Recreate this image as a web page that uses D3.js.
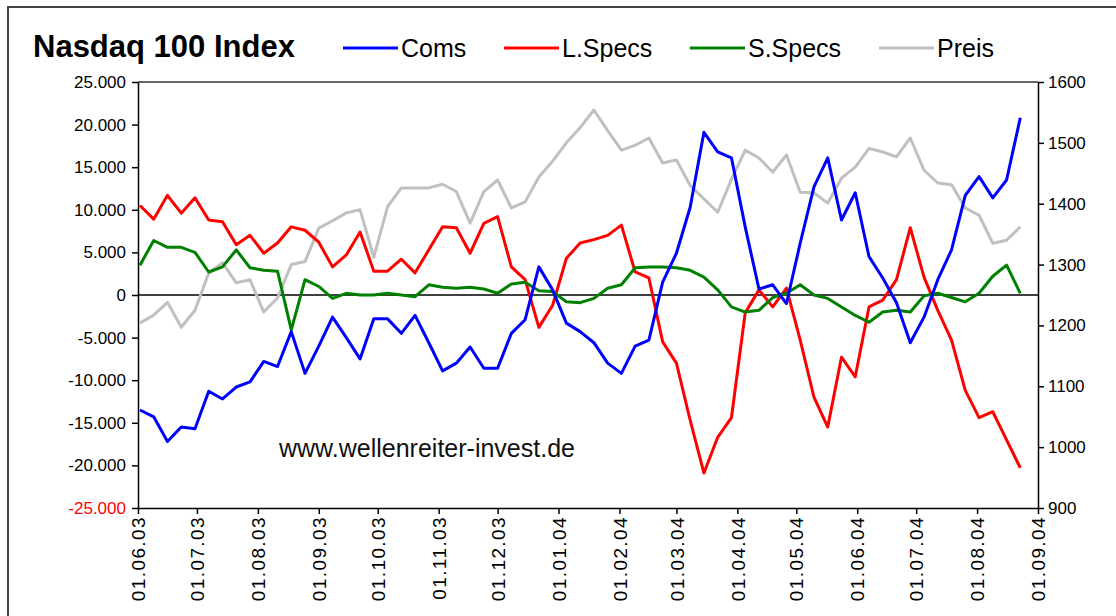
<!DOCTYPE html>
<html>
<head>
<meta charset="utf-8">
<script src="https://cdn.jsdelivr.net/npm/d3@7"></script>
<style>
  body { margin: 0; background: #fff; }
  svg { display: block; }
  text { font-family: "Liberation Sans", Arial, sans-serif; }
</style>
</head>
<body>
<div id="chart"></div>
<script>
// weekly COT data, Nasdaq 100
const startDate = new Date(2003, 5, 2)

const coms = [-13500, -14300, -17200, -15500, -15700, -11300, -12200, -10800, -10200, -7800,
  -8400, -4300, -9200, -6000, -2600, -5000, -7500, -2800, -2800, -4500,
  -2400, -5600, -8900, -8000, -6100, -8600, -8600, -4500, -2900, 3300,
  600, -3300, -4300, -5600, -8000, -9200, -6000, -5300, 1500, 4900,
  10300, 19100, 16800, 16100, 8000, 700, 1200, -1000, 6100, 12700,
  16100, 8800, 12000, 4500, 2000, -900, -5600, -2600, 1800, 5300,
  11700, 13900, 11400, 13500, 20800]

const lSpecs = [10500, 8900, 11700, 9600, 11400, 8800, 8600, 5900, 7000, 4900,
  6100, 8000, 7600, 6200, 3300, 4700, 7400, 2800, 2800, 4200,
  2600, 5300, 8000, 7900, 4900, 8400, 9200, 3300, 1800, -3800,
  -1200, 4300, 6100, 6500, 7000, 8200, 2700, 2000, -5500, -8000,
  -14700, -20900, -16700, -14400, -2100, 600, -1400, 800, -5300, -12000,
  -15500, -7300, -9600, -1400, -600, 1800, 7900, 2100, -1800, -5300,
  -11200, -14400, -13700, -17000, -20300]

const sSpecs = [3500, 6400, 5600, 5600, 5000, 2700, 3300, 5300, 3200, 2900,
  2800, -4100, 1800, 1000, -400, 200, 0, 0, 200, 0,
  -200, 1200, 900, 800, 900, 700, 200, 1300, 1500, 500,
  400, -800, -900, -400, 800, 1200, 3200, 3300, 3300, 3200,
  2900, 2100, 600, -1400, -2000, -1800, -300, 200, 1200, 0,
  -400, -1400, -2400, -3200, -2000, -1800, -2000, -100, 200, -300,
  -800, 200, 2200, 3500, 200]

const preis = [1204, 1217, 1238, 1197, 1225, 1286, 1303, 1270, 1275, 1222,
  1245, 1300, 1305, 1360, 1372, 1385, 1390, 1312, 1395, 1426,
  1426, 1426, 1432, 1420, 1368, 1420, 1439, 1393, 1403, 1444,
  1470, 1500, 1525, 1554, 1520, 1488, 1496, 1508, 1467, 1472,
  1430, 1408, 1386, 1440, 1488, 1475, 1452, 1480, 1419, 1418,
  1401, 1442, 1460, 1491, 1485, 1477, 1508, 1455, 1434, 1431,
  1393, 1381, 1335, 1340, 1362]

const leftTicks = [-25000, -20000, -15000, -10000, -5000, 0, 5000, 10000, 15000, 20000, 25000]
const rightTicks = [900, 1000, 1100, 1200, 1300, 1400, 1500, 1600]
const seriesNames = ["Coms", "L.Specs", "S.Specs", "Preis"]
const seriesColors = ["#0000ff", "#ff0000", "#008000", "#c0c0c0"]

// one date per weekly report
const dates = coms.map((d, i) => d3.timeWeek.offset(startDate, i))

const width = 1116
const height = 616
const margin = { top: 82, right: 78, bottom: 108, left: 138 }

const svg = d3.select("#chart")
  .append("svg")
  .attr("width", width)
  .attr("height", height)

// outer chart border
svg.append("rect")
  .attr("x", 8).attr("y", 7)
  .attr("width", 1300).attr("height", 800)
  .attr("fill", "#fff")
  .attr("stroke", "#444")
  .attr("stroke-width", 2)

const x = d3.scaleTime()
  .domain([new Date(2003, 5, 1), new Date(2004, 8, 1)])
  .range([margin.left, width - margin.right])

const yL = d3.scaleLinear()
  .domain([-25000, 25000])
  .range([height - margin.bottom, margin.top])

const yR = d3.scaleLinear()
  .domain([900, 1600])
  .range([height - margin.bottom, margin.top])

const de = d3.formatLocale({ decimal: ",", thousands: ".", grouping: [3], currency: ["", ""], minus: "-" })
const fmt = de.format(",")

// top border of plot area
svg.append("line")
  .attr("x1", margin.left).attr("x2", width - margin.right)
  .attr("y1", margin.top).attr("y2", margin.top)
  .attr("stroke", "#333").attr("stroke-width", 1.5)

// zero line
svg.append("line")
  .attr("x1", margin.left).attr("x2", width - margin.right)
  .attr("y1", yL(0)).attr("y2", yL(0))
  .attr("stroke", "#000").attr("stroke-width", 1.5)

function styleAxis(g) {
  g.select(".domain").attr("stroke", "#000").attr("stroke-width", 1.5)
  g.selectAll(".tick line").attr("stroke", "#000").attr("stroke-width", 1.5)
  g.selectAll("text").attr("fill", "#000").attr("font-size", "17px")
  g.attr("font-family", null)
}

// left axis
const gL = svg.append("g")
  .attr("transform", `translate(${margin.left},0)`)
  .call(d3.axisLeft(yL).tickValues(leftTicks).tickFormat(fmt).tickSize(6).tickSizeOuter(0).tickPadding(6))
styleAxis(gL)
gL.selectAll(".tick text").filter(d => d === -25000).attr("fill", "#ff0000")

// right axis
const gR = svg.append("g")
  .attr("transform", `translate(${width - margin.right},0)`)
  .call(d3.axisRight(yR).tickValues(rightTicks).tickFormat(d3.format("d")).tickSize(6).tickSizeOuter(0).tickPadding(4))
styleAxis(gR)

// bottom axis
const gB = svg.append("g")
  .attr("transform", `translate(0,${height - margin.bottom})`)
  .call(d3.axisBottom(x).ticks(d3.timeMonth.every(1)).tickFormat(d3.timeFormat("%d.%m.%y")).tickSize(6).tickSizeOuter(0))
styleAxis(gB)
gB.selectAll(".tick text")
  .attr("transform", "rotate(-90)")
  .attr("text-anchor", "end")
  .attr("font-size", "19px")
  .attr("letter-spacing", "1.4px")
  .attr("x", -8)
  .attr("y", 0)
  .attr("dy", "0.35em")

// lines
const allSeries = [coms, lSpecs, sSpecs, preis]
const order = [3, 1, 2, 0]
order.forEach(k => {
  const scale = k === 3 ? yR : yL
  const line = d3.line()
    .x((d, i) => x(dates[i]))
    .y(d => scale(d))
  svg.append("path")
    .datum(allSeries[k])
    .attr("d", line)
    .attr("fill", "none")
    .attr("stroke", seriesColors[k])
    .attr("stroke-width", 3)
    .attr("stroke-linejoin", "round")
})

// title
svg.append("text")
  .attr("x", 33).attr("y", 57)
  .attr("font-size", "31px")
  .attr("font-weight", "bold")
  .text("Nasdaq 100 Index")

// legend
const legendX = [343, 504, 690, 879]
const legend = svg.append("g")
seriesNames.forEach((name, i) => {
  legend.append("line")
    .attr("x1", legendX[i]).attr("x2", legendX[i] + 55)
    .attr("y1", 48).attr("y2", 48)
    .attr("stroke", seriesColors[i]).attr("stroke-width", 3)
  legend.append("text")
    .attr("x", legendX[i] + 58).attr("y", 57)
    .attr("font-size", "25px")
    .text(name)
})

// watermark
svg.append("text")
  .attr("x", 279).attr("y", 457)
  .attr("font-size", "25px")
  .attr("fill", "#111")
  .text("www.wellenreiter-invest.de")
</script>
</body>
</html>
